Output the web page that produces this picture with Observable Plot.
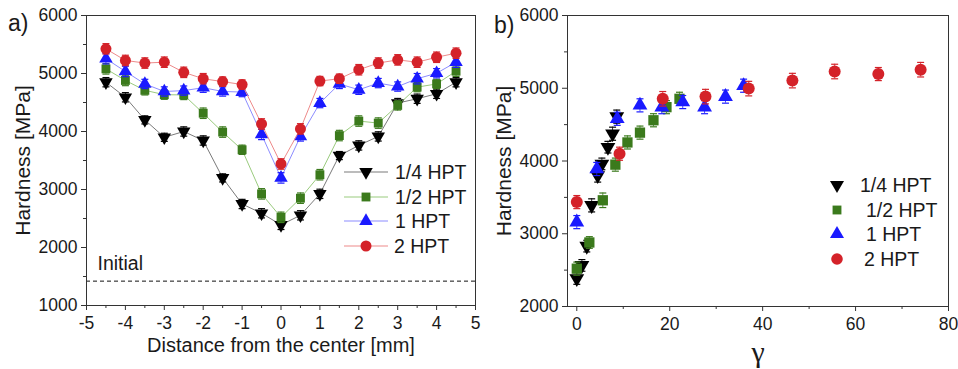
<!DOCTYPE html>
<html><head><meta charset="utf-8">
<script src="https://cdn.jsdelivr.net/npm/d3@7"></script>
<script src="https://cdn.jsdelivr.net/npm/@observablehq/plot@0.6"></script>
<style>
html,body{margin:0;padding:0;background:#fff;}
#wrap{position:relative;width:958px;height:369px;font-family:"Liberation Sans",Arial,sans-serif;color:#1a1a1a;overflow:hidden;}
.panel{position:absolute;top:0;}
.tag{position:absolute;font-size:23px;line-height:1;}
.legend{position:absolute;font-size:19.5px;line-height:1;}
.legend .row{position:absolute;white-space:nowrap;}
[aria-label="y-axis label"] text{font-size:21px;}
[aria-label="x-axis label"] text{font-size:20px;}
#right [aria-label="x-axis label"] text{font-family:"Liberation Serif","DejaVu Serif",serif;font-size:30px;}
</style></head><body>
<div id="wrap"></div>
<script>
// ---------- data ----------
const seriesNames = ["1/4 HPT", "1/2 HPT", "1 HPT", "2 HPT"];
const markerColors = ["#000000", "#3b7a1c", "#1a1aff", "#d42229"];
const lineColors = ["#7a7a7a", "#9acb7e", "#8c8cff", "#ee8a8a"];

// panel a) distance from center [mm]
const distance = [-4.5, -4, -3.5, -3, -2.5, -2, -1.5, -1, -0.5, 0, 0.5, 1, 1.5, 2, 2.5, 3, 3.5, 4, 4.5];
const hvQuarter = [4850, 4590, 4200, 3900, 4000, 3845, 3200, 2750, 2590, 2390, 2555, 2925, 3585, 3760, 3915, 4490, 4565, 4650, 4850];
const hvHalf    = [5080, 4880, 4710, 4635, 4630, 4315, 3990, 3685, 2925, 2520, 2850, 3255, 3930, 4180, 4145, 4450, 4765, 4820, 5040];
const hvOne     = [5255, 5035, 4820, 4690, 4705, 4755, 4690, 4680, 3950, 3200, 3915, 4490, 4820, 4720, 4835, 4775, 4910, 5005, 5195];
const hvTwo     = [5425, 5225, 5180, 5195, 5020, 4910, 4860, 4810, 4130, 3440, 4045, 4870, 4910, 5065, 5180, 5235, 5195, 5280, 5350];
const errQuarter = [80, 80, 70, 70, 80, 80, 70, 80, 80, 80, 80, 80, 70, 80, 80, 80, 80, 80, 80];
const errHalf    = [90, 90, 80, 80, 80, 90, 90, 80, 90, 90, 90, 90, 90, 90, 90, 80, 80, 80, 90];
const errOne     = [90, 90, 80, 80, 80, 80, 80, 80, 90, 90, 80, 80, 80, 80, 80, 80, 90, 80, 90];
const errTwo     = [90, 90, 90, 90, 90, 90, 80, 80, 90, 90, 90, 80, 80, 90, 90, 90, 90, 90, 90];
const initialHardness = 1420;
const initialLabel = "Initial";

// panel b) shear strain gamma
const gammaQuarter = [0, 1.1, 2.15, 3.2, 4.5, 5.4, 6.7, 7.7, 8.6];
const hvGQuarter   = [2385, 2565, 2830, 3390, 3800, 3960, 4190, 4375, 4610];
const gammaHalf    = [0, 2.7, 5.6, 8.3, 10.9, 13.6, 16.5, 19.3, 22.1];
const hvGHalf      = [2520, 2880, 3460, 3950, 4255, 4390, 4560, 4740, 4855];
const gammaOne     = [0, 4.3, 8.7, 13.6, 18.3, 22.8, 27.5, 32, 35.9];
const hvGOne       = [3160, 3890, 4580, 4765, 4740, 4810, 4740, 4885, 5035];
const gammaTwo     = [0, 9.2, 18.5, 27.7, 37, 46.4, 55.5, 64.9, 74];
const hvGTwo       = [3435, 4100, 4855, 4885, 4995, 5105, 5230, 5195, 5255];
const errGQuarter = [80, 80, 80, 90, 90, 80, 80, 90, 90];
const errGHalf    = [90, 80, 100, 90, 90, 90, 90, 90, 90];
const errGOne     = [90, 90, 90, 90, 90, 90, 90, 90, 90];
const errGTwo     = [90, 90, 100, 100, 100, 100, 100, 90, 100];

const xTicksA = [-5, -4, -3, -2, -1, 0, 1, 2, 3, 4, 5];
const xMinorA = [-4.5, -3.5, -2.5, -1.5, -0.5, 0.5, 1.5, 2.5, 3.5, 4.5];
const yTicksA = [1000, 2000, 3000, 4000, 5000, 6000];
const yMinorA = [1500, 2500, 3500, 4500, 5500];
const xTicksB = [0, 20, 40, 60, 80];
const xMinorB = [10, 30, 50, 70];
const yTicksB = [2000, 3000, 4000, 5000, 6000];
const yMinorB = [2500, 3500, 4500, 5500];

// ---------- helpers ----------
const FONT = '"Liberation Sans", Arial, sans-serif';
const symbols = ["triangle", "square", "triangle", "circle"];
const rotations = [180, 0, 0, 0];
const capSymbol = {draw(ctx, size) { const w = Math.sqrt(size / Math.PI); ctx.moveTo(-w, 0); ctx.lineTo(w, 0); }};

function table(xs, ys, es, i) {
  return xs.map((x, j) => ({series: seriesNames[i], x, h: ys[j], e: es[j]}));
}
const setA = [
  table(distance, hvQuarter, errQuarter, 0),
  table(distance, hvHalf, errHalf, 1),
  table(distance, hvOne, errOne, 2),
  table(distance, hvTwo, errTwo, 3)
];
const setB = [
  table(gammaQuarter, hvGQuarter, errGQuarter, 0),
  table(gammaHalf, hvGHalf, errGHalf, 1),
  table(gammaOne, hvGOne, errGOne, 2),
  table(gammaTwo, hvGTwo, errGTwo, 3)
];

function seriesMarks(data, i, withLine, rs) {
  const m = [];
  if (withLine) m.push(Plot.line(data, {x: "x", y: "h", stroke: lineColors[i], strokeWidth: 1}));
  m.push(Plot.ruleX(data, {x: "x", y1: d => d.h - d.e, y2: d => d.h + d.e, stroke: markerColors[i], strokeWidth: 1, strokeOpacity: 0.8}));
  m.push(Plot.dot(data, {x: "x", y: d => d.h - d.e, symbol: capSymbol, r: 3.5, stroke: markerColors[i], strokeWidth: 1.2, fill: "none"}));
  m.push(Plot.dot(data, {x: "x", y: d => d.h + d.e, symbol: capSymbol, r: 3.5, stroke: markerColors[i], strokeWidth: 1.2, fill: "none"}));
  m.push(Plot.dot(data, {x: "x", y: "h", symbol: symbols[i], rotate: rotations[i], r: rs[i], fill: markerColors[i], stroke: "none"}));
  return m;
}

function axes(xT, xM, yT, yM, xLabel, yLabel, xOff, yOff) {
  const fmt = d => `${d}`;
  return [
    Plot.axisX({ticks: xT, tickSize: 5, tickPadding: 6, tickFormat: fmt, label: xLabel, labelAnchor: "center", labelOffset: xOff, labelArrow: "none", stroke: "#333"}),
    Plot.axisX({ticks: xM, tickSize: 3, tickFormat: () => "", label: null, stroke: "#333"}),
    Plot.axisY({ticks: yT, tickSize: 5, tickPadding: 4, tickFormat: fmt, label: yLabel, labelAnchor: "center", labelOffset: yOff, labelArrow: "none", stroke: "#333"}),
    Plot.axisY({ticks: yM, tickSize: 3, tickFormat: () => "", label: null, stroke: "#333"}),
    Plot.frame({stroke: "#333", strokeWidth: 1})
  ];
}

const style = {fontFamily: FONT, fontSize: "17.5px", color: "#1a1a1a", background: "transparent", overflow: "visible"};

// ---------- panel a ----------
const plotA = Plot.plot({
  width: 490, height: 369,
  marginLeft: 86, marginRight: 15, marginTop: 15, marginBottom: 64,
  x: {domain: [-5, 5]},
  y: {domain: [1000, 6000]},
  style,
  marks: [
    Plot.ruleY([initialHardness], {stroke: "#111", strokeWidth: 1, strokeDasharray: "4,3"}),
    Plot.text([{label: initialLabel, h: initialHardness}], {y: "h", text: "label", frameAnchor: "left", textAnchor: "start", dx: 11, dy: -17, fontSize: 19.5, fill: "#1a1a1a"}),
    ...setA.flatMap((d, i) => seriesMarks(d, i, true, [5, 5, 5, 5.5])),
    ...axes(xTicksA, xMinorA, yTicksA, yMinorA, "Distance from the center [mm]", "Hardness [MPa]", 46.5, 71)
  ]
});

// ---------- panel b ----------
const plotB = Plot.plot({
  width: 468, height: 369,
  marginLeft: 77, marginRight: 10, marginTop: 15, marginBottom: 63,
  x: {domain: [-2, 80]},
  y: {domain: [2000, 6000]},
  style,
  marks: [
    ...setB.flatMap((d, i) => seriesMarks(d, i, false, [5.5, 5.8, 5.5, 6])),
    ...axes(xTicksB, xMinorB, yTicksB, yMinorB, "γ", "Hardness [MPa]", 55, 71)
  ]
});

const wrap = document.getElementById("wrap");
const pa = document.createElement("div"); pa.className = "panel"; pa.id = "left"; pa.style.left = "0px"; pa.appendChild(plotA); wrap.appendChild(pa);
const pb = document.createElement("div"); pb.className = "panel"; pb.id = "right"; pb.style.left = "490px"; pb.appendChild(plotB); wrap.appendChild(pb);

function tag(t, x, y) { const d = document.createElement("div"); d.className = "tag"; d.textContent = t; d.style.left = x + "px"; d.style.top = y + "px"; wrap.appendChild(d); }
tag("a)", 8, 12);
tag("b)", 494, 14);

// ---------- legends ----------
function symbolPath(i, r) {
  const types = [d3.symbolTriangle, d3.symbolSquare, d3.symbolTriangle, d3.symbolCircle];
  return d3.symbol(types[i], Math.PI * r * r)();
}
function legend(left, top, spacing, withLine, lineW, textX, textOffsets, rs) {
  const box = document.createElement("div"); box.className = "legend";
  box.style.left = left + "px"; box.style.top = top + "px";
  seriesNames.forEach((name, i) => {
    const row = document.createElement("div"); row.className = "row";
    row.style.top = (i * spacing) + "px"; row.style.left = "0px"; row.style.height = "20px";
    const svg = d3.create("svg").attr("width", lineW).attr("height", 20).style("position", "absolute").style("left", "0px").style("top", "0px");
    if (withLine) svg.append("line").attr("x1", 0).attr("x2", lineW).attr("y1", 10).attr("y2", 10).attr("stroke", lineColors[i]).attr("stroke-width", 1.2);
    svg.append("path").attr("d", symbolPath(i, rs[i])).attr("fill", markerColors[i])
      .attr("transform", `translate(${lineW / 2},10) rotate(${rotations[i]})`);
    row.appendChild(svg.node());
    const tx = document.createElement("span"); tx.textContent = name;
    tx.style.position = "absolute"; tx.style.left = (textX + textOffsets[i]) + "px"; tx.style.top = "1px";
    row.appendChild(tx);
    box.appendChild(row);
  });
  wrap.appendChild(box);
}
legend(344, 162, 24.5, true, 44, 51, [0, 0, 0, -1], [5, 5, 5, 5.5]);
legend(826, 175, 24.7, false, 22, 34, [0, 6, 6, 4], [5.2, 5, 5.2, 5.8]);
</script>
</body></html>
